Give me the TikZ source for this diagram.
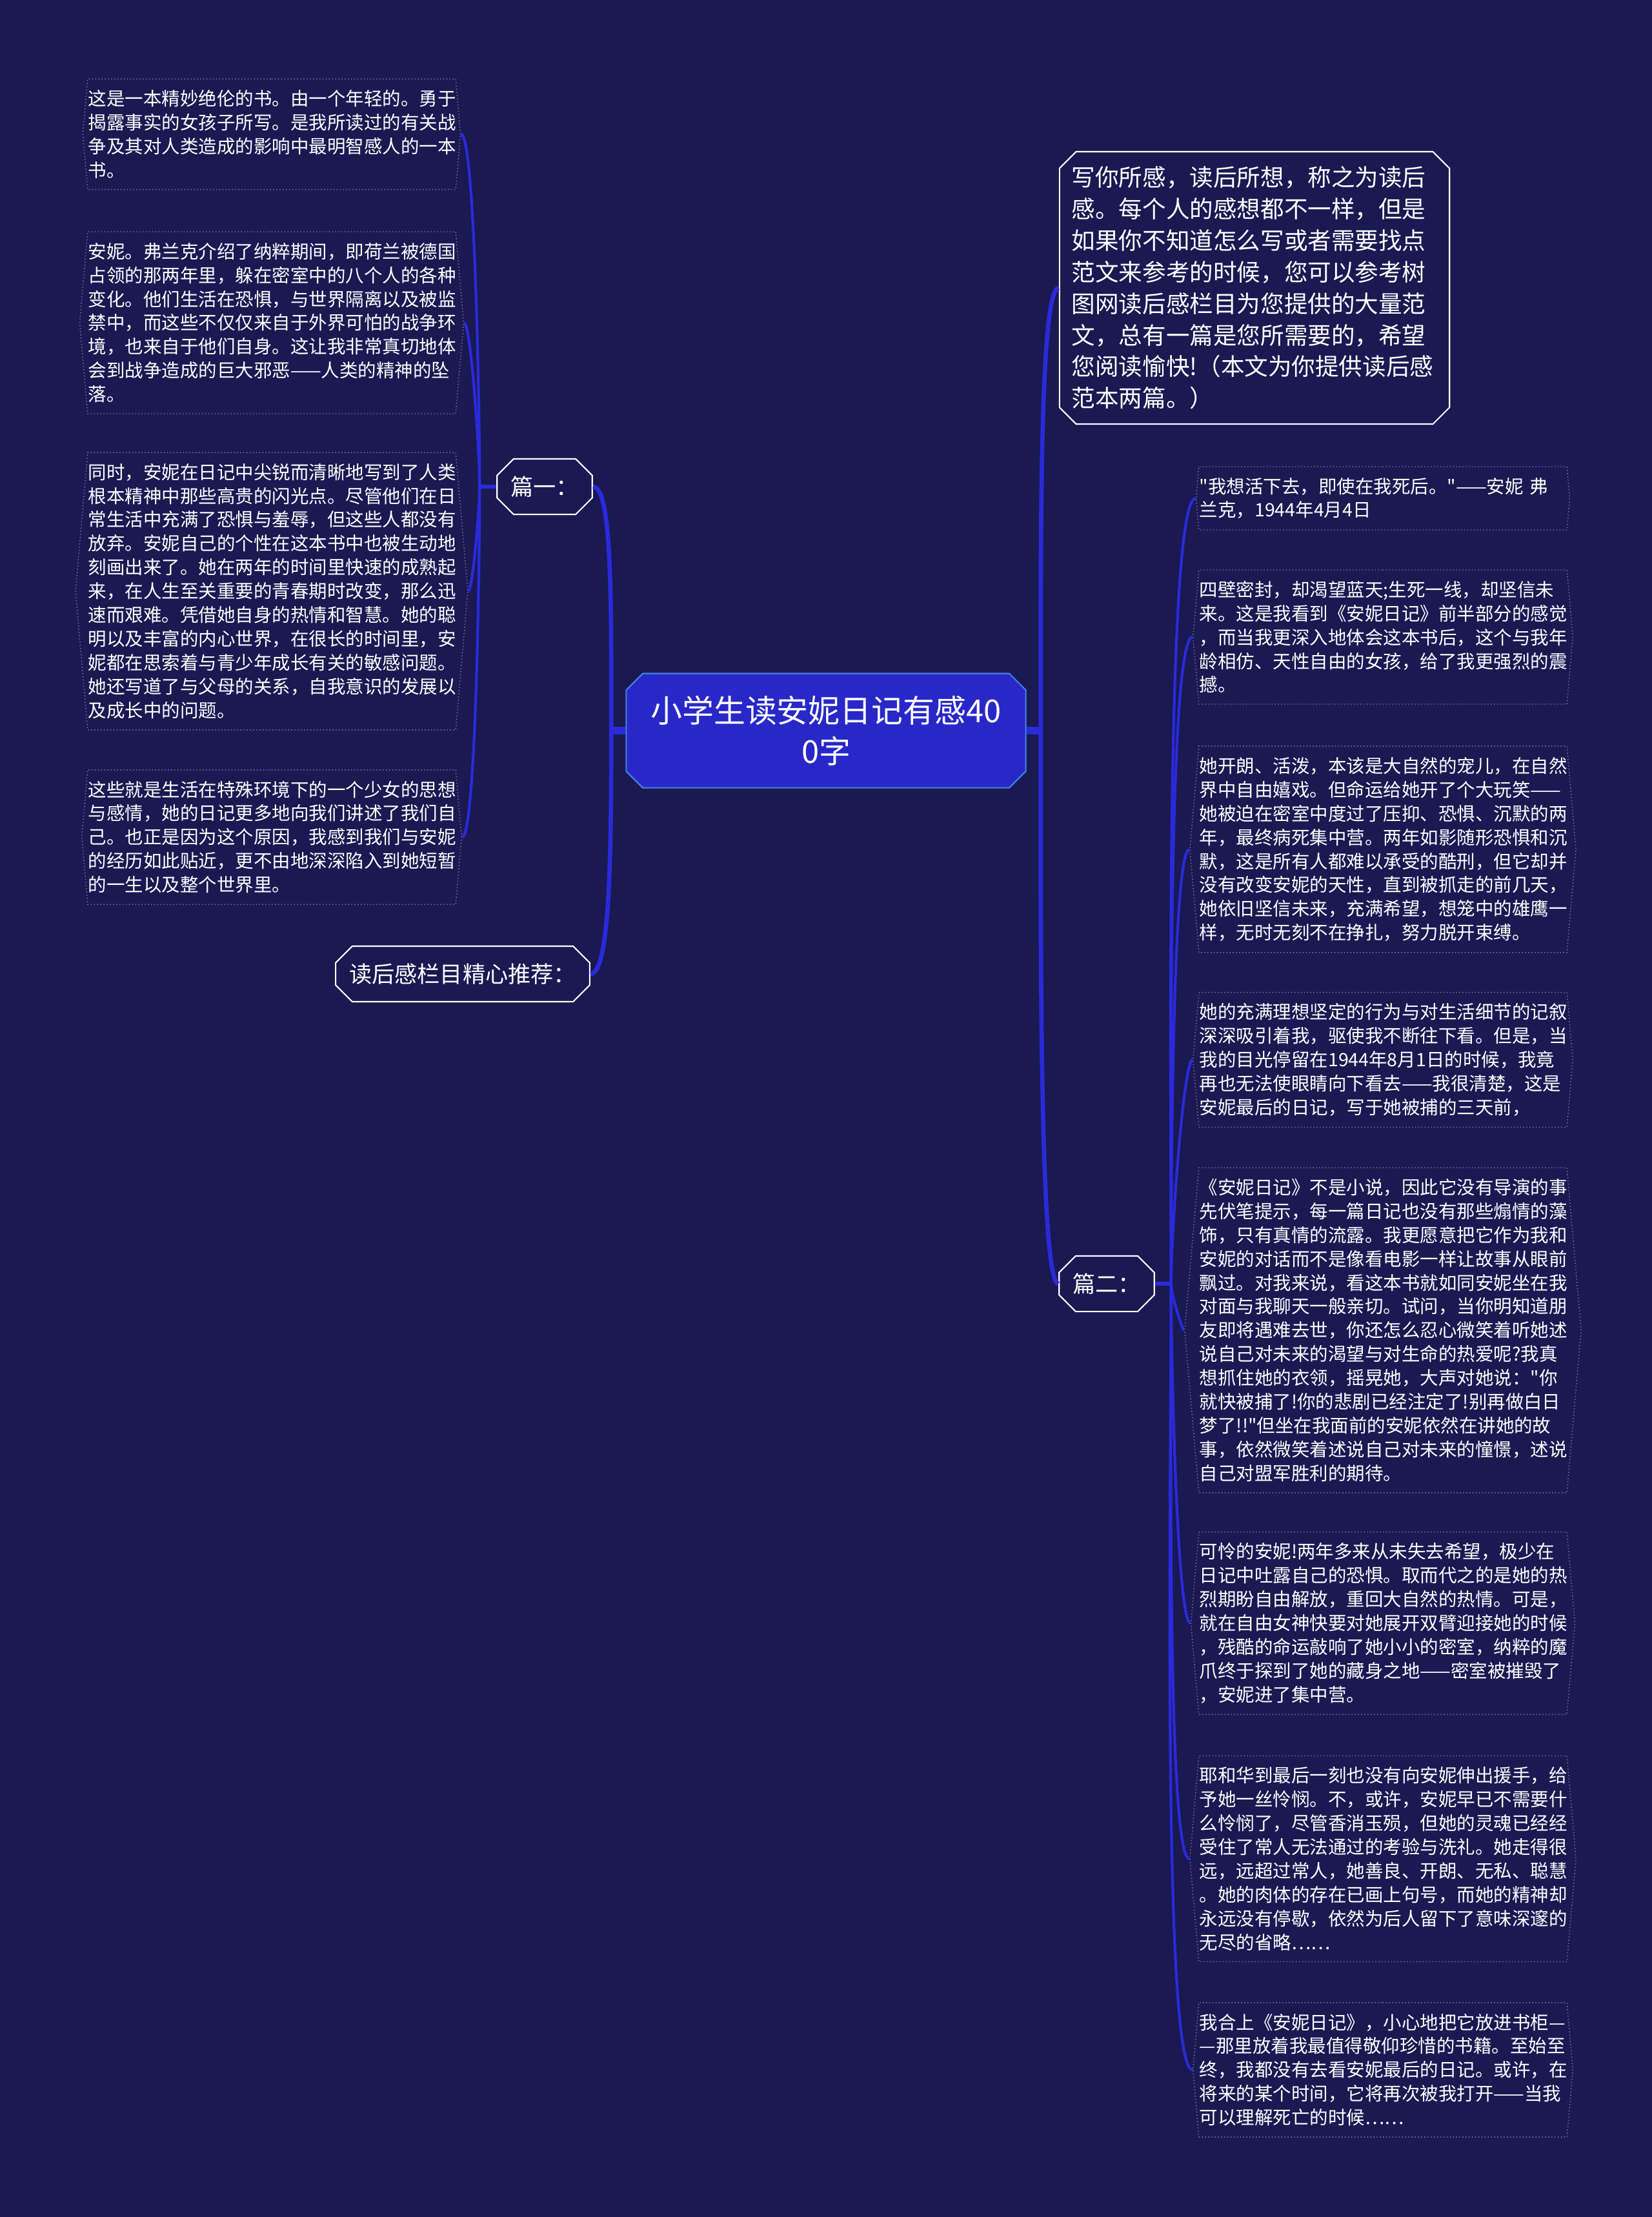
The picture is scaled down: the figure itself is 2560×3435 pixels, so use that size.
\documentclass[tikz,border=0pt]{standalone}
\usepackage{fontspec}
\setmainfont{Noto Sans CJK SC}[Ligatures=TeXOff]
\usetikzlibrary{shapes.misc,shapes.symbols}
\definecolor{bgnavy}{RGB}{26,25,82}
\definecolor{rootblue}{RGB}{40,40,200}
\definecolor{rootedge}{RGB}{70,130,230}
\definecolor{linkblue}{RGB}{42,42,218}
\definecolor{dotgray}{RGB}{130,130,150}

\begin{document}
\begin{tikzpicture}[x=0.01cm,y=-0.01cm,
  rootbox/.style={chamfered rectangle,chamfered rectangle xsep=0.13cm,
    fill=rootblue,draw=rootedge,line width=0.6pt,text=white,align=center,
    minimum width=6.19cm,minimum height=1.77cm,
    font=\fontsize{13.9pt}{17.9pt}\selectfont},
  topicbox/.style={chamfered rectangle,chamfered rectangle xsep=0.13cm,
    fill=bgnavy,draw=white,line width=0.6pt,text=white,
    inner xsep=0.08cm,minimum height=0.86cm,
    font=\fontsize{10pt}{13pt}\selectfont},
  leafbox/.style={signal,signal to=east and west,signal pointer angle=170,
    draw=dotgray,densely dotted,line width=0.4pt,text=white,
    text width=5.68cm,inner xsep=0.01cm,inner ysep=0.17cm,align=left,
    font=\fontsize{8.1pt}{10.5pt}\selectfont},
  link/.style={draw=linkblue,line width=1.9pt},
  twig/.style={draw=linkblue,line width=1.2pt},
  stub/.style={draw=linkblue,line width=3.4pt},
  twigstub/.style={draw=linkblue,line width=1.8pt}]
\fill[bgnavy] (0,0) rectangle (2560,3435);

% centre and first level
\node[rootbox] (root) at (1280,1132) {小学生读安妮日记有感40\\0字};
\node[topicbox] (part1) at (844,754) {篇一：};
\node[topicbox] (recom) at (717,1509) {读后感栏目精心推荐：};
\node[topicbox,text width=5.66cm,align=left,inner xsep=0.06cm,inner ysep=0.1cm,
  font=\fontsize{10.4pt}{13.9pt}\selectfont] (intro) at (1944,446) {写你所感，读后所想，称之为读后\\
感。每个人的感想都不一样，但是\\
如果你不知道怎么写或者需要找点\\
范文来参考的时候，您可以参考树\\
图网读后感栏目为您提供的大量范\\
文，总有一篇是您所需要的，希望\\
您阅读愉快!（本文为你提供读后感\\
范本两篇。）};
\node[topicbox] (part2) at (1715,1989) {篇二：};

% part one
\node[leafbox] (a1) at (421,208) {这是一本精妙绝伦的书。由一个年轻的。勇于\\
揭露事实的女孩子所写。是我所读过的有关战\\
争及其对人类造成的影响中最明智感人的一本\\
书。};
\node[leafbox] (a2) at (421,500) {安妮。弗兰克介绍了纳粹期间，即荷兰被德国\\
占领的那两年里，躲在密室中的八个人的各种\\
变化。他们生活在恐惧，与世界隔离以及被监\\
禁中，而这些不仅仅来自于外界可怕的战争环\\
境，也来自于他们自身。这让我非常真切地体\\
会到战争造成的巨大邪恶——人类的精神的坠\\
落。};
\node[leafbox] (a3) at (421,916) {同时，安妮在日记中尖锐而清晰地写到了人类\\
根本精神中那些高贵的闪光点。尽管他们在日\\
常生活中充满了恐惧与羞辱，但这些人都没有\\
放弃。安妮自己的个性在这本书中也被生动地\\
刻画出来了。她在两年的时间里快速的成熟起\\
来，在人生至关重要的青春期时改变，那么迅\\
速而艰难。凭借她自身的热情和智慧。她的聪\\
明以及丰富的内心世界，在很长的时间里，安\\
妮都在思索着与青少年成长有关的敏感问题。\\
她还写道了与父母的关系，自我意识的发展以\\
及成长中的问题。};
\node[leafbox] (a4) at (421,1297) {这些就是生活在特殊环境下的一个少女的思想\\
与感情，她的日记更多地向我们讲述了我们自\\
己。也正是因为这个原因，我感到我们与安妮\\
的经历如此贴近，更不由地深深陷入到她短暂\\
的一生以及整个世界里。};

% part two
\node[leafbox] (b1) at (2143,772) {"我想活下去，即使在我死后。"——安妮~弗\\
兰克，1944年4月4日};
\node[leafbox] (b2) at (2143,987) {四壁密封，却渴望蓝天;生死一线，却坚信未\\
来。这是我看到《安妮日记》前半部分的感觉\\
，而当我更深入地体会这本书后，这个与我年\\
龄相仿、天性自由的女孩，给了我更强烈的震\\
撼。};
\node[leafbox] (b3) at (2143,1316) {她开朗、活泼，本该是大自然的宠儿，在自然\\
界中自由嬉戏。但命运给她开了个大玩笑——\\
她被迫在密室中度过了压抑、恐惧、沉默的两\\
年，最终病死集中营。两年如影随形恐惧和沉\\
默，这是所有人都难以承受的酷刑，但它却并\\
没有改变安妮的天性，直到被抓走的前几天，\\
她依旧坚信未来，充满希望，想笼中的雄鹰一\\
样，无时无刻不在挣扎，努力脱开束缚。};
\node[leafbox] (b4) at (2143,1642) {她的充满理想坚定的行为与对生活细节的记叙\\
深深吸引着我，驱使我不断往下看。但是，当\\
我的目光停留在1944年8月1日的时候，我竟\\
再也无法使眼睛向下看去——我很清楚，这是\\
安妮最后的日记，写于她被捕的三天前，};
\node[leafbox] (b5) at (2143,2061) {《安妮日记》不是小说，因此它没有导演的事\\
先伏笔提示，每一篇日记也没有那些煽情的藻\\
饰，只有真情的流露。我更愿意把它作为我和\\
安妮的对话而不是像看电影一样让故事从眼前\\
飘过。对我来说，看这本书就如同安妮坐在我\\
对面与我聊天一般亲切。试问，当你明知道朋\\
友即将遇难去世，你还怎么忍心微笑着听她述\\
说自己对未来的渴望与对生命的热爱呢?我真\\
想抓住她的衣领，摇晃她，大声对她说："你\\
就快被捕了!你的悲剧已经注定了!别再做白日\\
梦了!!"但坐在我面前的安妮依然在讲她的故\\
事，依然微笑着述说自己对未来的憧憬，述说\\
自己对盟军胜利的期待。};
\node[leafbox] (b6) at (2143,2515) {可怜的安妮!两年多来从未失去希望，极少在\\
日记中吐露自己的恐惧。取而代之的是她的热\\
烈期盼自由解放，重回大自然的热情。可是，\\
就在自由女神快要对她展开双臂迎接她的时候\\
，残酷的命运敲响了她小小的密室，纳粹的魔\\
爪终于探到了她的藏身之地——密室被摧毁了\\
，安妮进了集中营。};
\node[leafbox] (b7) at (2143,2880) {耶和华到最后一刻也没有向安妮伸出援手，给\\
予她一丝怜悯。不，或许，安妮早已不需要什\\
么怜悯了，尽管香消玉殒，但她的灵魂已经经\\
受住了常人无法通过的考验与洗礼。她走得很\\
远，远超过常人，她善良、开朗、无私、聪慧\\
。她的肉体的存在已画上句号，而她的精神却\\
永远没有停歇，依然为后人留下了意味深邃的\\
无尽的省略……};
\node[leafbox] (b8) at (2143,3207) {我合上《安妮日记》，小心地把它放进书柜—\\
—那里放着我最值得敬仰珍惜的书籍。至始至\\
终，我都没有去看安妮最后的日记。或许，在\\
将来的某个时间，它将再次被我打开——当我\\
可以理解死亡的时候……};

% connectors
\coordinate (rootL) at ([xshift=-0.22cm]root.west);
\coordinate (rootR) at ([xshift=0.22cm]root.east);
\coordinate (p1L) at ([xshift=-0.26cm]part1.west);
\coordinate (p2R) at ([xshift=0.25cm]part2.east);
\draw[stub] (root.west) -- (rootL);
\draw[stub] (root.east) -- (rootR);
\draw[link] (rootL) .. controls +(0,-200) and +(30,0) .. (part1.east);
\draw[link] (rootL) .. controls +(0,200) and +(30,0) .. (recom.east);
\draw[link] (rootR) .. controls +(0,-300) and +(-30,0) .. (intro.west);
\draw[link] (rootR) .. controls +(0,300) and +(-30,0) .. (part2.west);
\draw[twigstub] (part1.west) -- (p1L);
\draw[twigstub] (part2.east) -- (p2R);
\foreach \n/\a in {a1/90,a2/90,a3/-90,a4/-90}
  \draw[twig] (p1L) to[out=\a,in=0,out looseness=0.6,in looseness=0.1] (\n.east);
\foreach \n/\a in {b1/90,b2/90,b3/90,b4/90,b5/-90,b6/-90,b7/-90,b8/-90}
  \draw[twig] (p2R) to[out=\a,in=180,out looseness=0.6,in looseness=0.1] (\n.west);
\end{tikzpicture}
\end{document}
